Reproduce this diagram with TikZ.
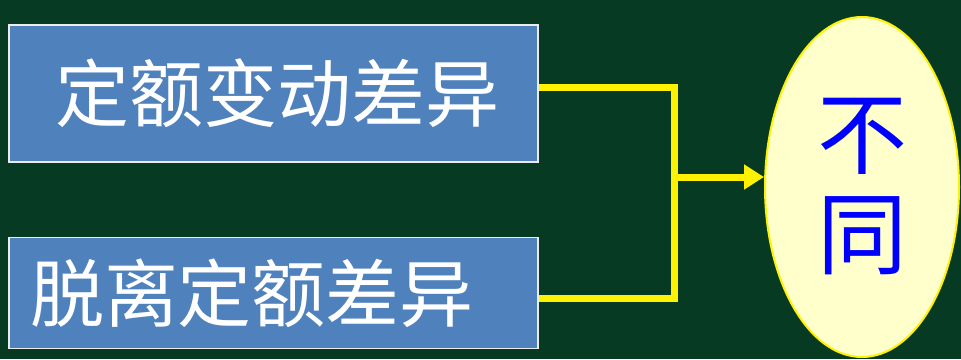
\documentclass[tikz,border=0pt]{standalone}
\usepackage{fontspec}
\usepackage{tikz}
\usetikzlibrary{shapes.geometric,arrows.meta}
\newfontfamily\cjk{Noto Sans CJK SC}
\definecolor{board}{HTML}{063A23}
\definecolor{boxblue}{HTML}{4F81BD}
\definecolor{paleyellow}{HTML}{FFFFCC}

\begin{document}
\begin{tikzpicture}[x=1pt, y=-1pt,
  kind/.style={draw=white!85!gray, line width=1.5pt, fill=boxblue, text=white,
    minimum width=529pt, minimum height=137pt, text width=487pt, inner xsep=21pt,
    align=left, font=\cjk\fontsize{74}{74}\selectfont},
  result/.style={ellipse, draw=yellow, line width=2pt, fill=paleyellow, text=blue,
    minimum width=194pt, minimum height=340pt, inner sep=0pt, align=center,
    font=\cjk\fontsize{90}{100}\selectfont},
  link/.style={draw=yellow, line width=7pt}]

\useasboundingbox[fill=board] (0,0) rectangle (961,359);

\node[kind] (dingbian) at (273.5,93.5) {\hspace{25pt}定额变动差异};
\node[kind, minimum height=111pt] (tuoli) at (273.5,293) {脱离定额差异};

\node[result] (butong) at (862,187) {不\\同};

\coordinate (hui) at (674,177);

\draw[link] ([yshift=6.5pt]dingbian.east) -| (hui);
\draw[link] ([yshift=-5pt]tuoli.east) -| (hui);
\draw[link, -{Triangle[length=20pt, width=24pt]}] ([xshift=-3.5pt]hui) -- (hui -| butong.west);

\end{tikzpicture}
\end{document}
